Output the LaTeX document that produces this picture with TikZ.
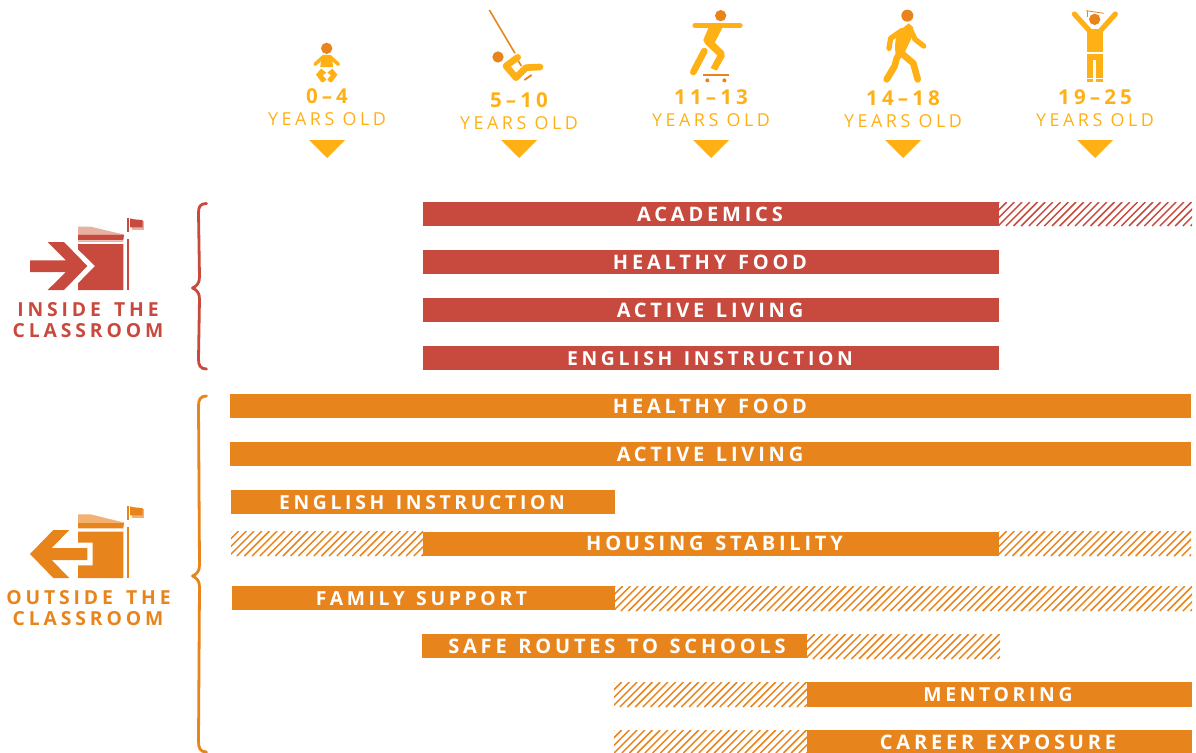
\documentclass[tikz,border=0pt]{standalone}
\usepackage{fontspec}
\setmainfont{Open Sans}
\newfontfamily\wideb[LetterSpace=19]{Open Sans}
\newfontfamily\widec[LetterSpace=20]{Open Sans}
\newcommand{\wgap}{\hspace{2pt} }
\newcommand{\sgap}{\hspace{3.2pt} }
\definecolor{cred}{HTML}{C8493D}
\definecolor{cora}{HTML}{E8841C}
\definecolor{cyel}{HTML}{FFB015}
\definecolor{lred}{HTML}{E8B0A0}
\definecolor{lora}{HTML}{F4B070}
\tikzset{
  barlabel/.style={anchor=base,inner sep=0pt,text=white,font=\wideb\bfseries\fontsize{15}{15}\selectfont},
  barlabelnarrow/.style={barlabel,font=\wideb\bfseries\fontsize{14.5}{14.5}\selectfont},
  agenum/.style={anchor=base,inner sep=0pt,text=cyel,font=\widec\bfseries\fontsize{15.4}{15.4}\selectfont},
  ageyrs/.style={anchor=base,inner sep=0pt,text=cyel,font=\widec\fontsize{13.4}{13.4}\selectfont},
  sidelabel/.style={anchor=base,inner sep=0pt,font=\widec\bfseries\fontsize{14.5}{14.5}\selectfont},
  limb/.style={line cap=round,line join=round,draw=cyel},
  bracestyle/.style={line width=2.1pt,line cap=round,line join=round},
}
\newcommand{\hatchbar}[5]{% x1 y1 x2 y2 colour
  \begin{scope}
    \clip (#1,#2) rectangle (#3,#4);
    \pgfmathsetmacro{\hh}{#4-#2}
    \pgfmathsetmacro{\xst}{#1-\hh}
    \pgfmathsetmacro{\xnx}{\xst+7.7}
    \foreach \xx in {\xst,\xnx,...,#3}{
      \draw[#5,line width=1.1pt] (\xx,#4) -- ++(\hh,-\hh);
    }
  \end{scope}}
\newcommand{\ageblock}[6]{% id, cx, numbase, yrsbase, num
  \node[agenum] (num#1) at (#2,#3) {#5};
  \node[ageyrs] (yrs#1) at (#2,#4) {YEARS OLD};
  \fill[cyel] (#2-18,140) -- (#2+18,140) -- (#2,158) -- cycle;}
\begin{document}
\begin{tikzpicture}[x=0.75pt,y=-0.75pt]
\useasboundingbox (0,0) rectangle (1196,753);

% ---- age headers
\ageblock{a}{327}{103}{125.5}{0–4}{}
\ageblock{b}{519}{107}{129.5}{5–10}{}
\ageblock{c}{711}{104}{126.5}{11–13}{}
\ageblock{d}{903}{105}{127.5}{14–18}{}
\ageblock{e}{1095}{104}{126.5}{19–25}{}

% ---- baby
\begin{scope}[shift={(250,0)},x=.25pt,y=-.25pt]
  \fill[cora] (230,145) circle (17);
  \draw[limb,line width=2.6pt] (195,193) -- (220,170) -- (240,170) -- (265,193);
  \fill[cyel] (214,168) -- (246,168) -- (249,201) -- (211,201) -- cycle;
  \fill[cyel] (198,224) -- (213,206) -- (229,218) -- (218,226) -- (229,238) -- (222,246) -- (214,246) -- cycle;
  \fill[cyel] (262,224) -- (247,206) -- (232,218) -- (243,226) -- (232,238) -- (239,246) -- (246,246) -- cycle;
\end{scope}

% ---- swing
\begin{scope}[shift={(250,0)},x=.25pt,y=-.25pt]
  \draw[cora,line width=1.2pt] (718,30) -- (795,160);
  \draw[cora,line width=1.2pt] (805,183) -- (814,198);
  \fill[cora] (744,171) circle (17);
  \draw[limb,line width=5pt] (803,172) -- (768,198) -- (798,233) -- (828,203) -- (870,201);
  \draw[cora,line width=1.4pt] (823,240) -- (845,225);
\end{scope}

% ---- skater
\begin{scope}[shift={(640,0)},x=.25pt,y=-.25pt]
  \fill[cora] (242,47) circle (17);
  \draw[limb,line width=3.9pt] (165,77) -- (300,77);
  \fill[cyel] (206,82) -- (248,82) -- (224,128) -- (252,155) -- (254,170) -- (230,212) -- (212,204) -- (232,166) -- (196,132) -- (190,120) -- cycle;
  \draw[limb,line width=5pt] (193,153) -- (160,216);
  \draw[cora,line width=1.4pt] (190,224) -- (267,224);
  \fill[cora] (202,241) circle (6);
  \fill[cora] (253,241) circle (6);
\end{scope}

% ---- walker
\begin{scope}[shift={(640,0)},x=.25pt,y=-.25pt]
  \fill[cora] (802,47) circle (18);
  \draw[limb,line width=4pt] (785,92) -- (752,115) -- (747,145);
  \draw[limb,line width=4pt] (808,82) -- (825,118) -- (851,138);
  \fill[cyel] (781,90) -- (806,70) -- (820,82) -- (813,118) -- (806,132) -- (791,165) -- (768,190) -- (765,140) -- (768,105) -- cycle;
  \draw[limb,line width=5pt] (771,172) -- (764,198) -- (740,238);
  \draw[limb,line width=5pt] (785,160) -- (820,190) -- (833,238);
\end{scope}

% ---- graduate
\begin{scope}[shift={(1000,0)},x=.25pt,y=-.25pt]
  \draw[limb,line width=3.9pt] (223,42) -- (272,96);
  \draw[limb,line width=3.9pt] (346,42) -- (298,96);
  \fill[cyel] (262,88) -- (308,88) -- (308,155) -- (262,155) -- cycle;
  \fill[cora] (284,58) circle (17);
  \draw[cora,line width=.6pt] (258,32) -- (312,40);
  \draw[cora,line width=.6pt] (263,34) -- (263,50);
  \fill[cyel] (262,162) rectangle (279,245);
  \fill[cyel] (289,162) rectangle (308,245);
  \fill[cyel] (279,162) rectangle (289,180);
  \draw[white,line width=.5pt] (262,236) -- (279,236) (289,236) -- (308,236);
\end{scope}

% ---- inside icon
\begin{scope}[shift={(0,190)},x=.25pt,y=-.25pt]
  \fill[cred] (90,211) -- (198,211) -- (143,156) -- (192,156) -- (262,228) -- (192,300) -- (143,300) -- (198,246) -- (90,246) -- cycle;
  \fill[lred] (234,110) -- (272,110) -- (373,134) -- (234,134) -- cycle;
  \fill[cred] (234,134) -- (372,134) -- (370,151) -- (234,151) -- cycle;
  \fill[lred] (234,153) rectangle (370,157);
  \fill[cred] (234,162) -- (370,162) -- (370,300) -- (234,300) -- (234,280) -- (285,228) -- (234,178) -- cycle;
  \fill[cred] (381,146) rectangle (387,300);
  \fill[cred] (381,84) rectangle (387,126);
  \fill[lred] (397,94) rectangle (432,119);
  \fill[cred] (390,85) -- (402,88) -- (428,90) -- (428,112) -- (390,112) -- cycle;
\end{scope}
\node[sidelabel,text=cred] (inA) at (88,316) {INSIDE\sgap THE};
\node[sidelabel,text=cred] (inB) at (88,337) {CLASSROOM};

% ---- outside icon
\begin{scope}[shift={(0,490)},x=.25pt,y=-.25pt]
  \fill[cora] (90,192) -- (160,120) -- (208,120) -- (155,174) -- (262,174) -- (262,210) -- (155,210) -- (208,264) -- (160,264) -- cycle;
  \fill[lora] (234,73) -- (272,73) -- (373,98) -- (234,98) -- cycle;
  \fill[cora] (234,98) -- (372,98) -- (370,115) -- (234,115) -- cycle;
  \fill[cora] (234,125) -- (370,125) -- (370,264) -- (234,264) -- (234,226) -- (278,226) -- (278,158) -- (234,158) -- cycle;
  \fill[cora] (381,110) rectangle (387,264);
  \fill[cora] (381,48) rectangle (387,90);
  \fill[lora] (397,58) rectangle (432,83);
  \fill[cora] (390,49) -- (402,52) -- (428,54) -- (428,76) -- (390,76) -- cycle;
\end{scope}
\node[sidelabel,text=cora] (outA) at (88.5,604) {OUTSIDE\sgap THE};
\node[sidelabel,text=cora] (outB) at (88,625) {CLASSROOM};

% ---- braces
\draw[cred,bracestyle] (206.5,203.5) .. controls (200,203.5) and (198.5,207) .. (198.5,213)
  -- (199.5,277) .. controls (199.5,283) and (197,286) .. (192.5,288)
  .. controls (197,290) and (199.5,293) .. (199.5,299)
  -- (198.5,359) .. controls (198.5,365) and (200,369) .. (206.5,369);
\draw[cora,bracestyle] (206.5,396) .. controls (200,396) and (198.5,400) .. (198.5,406)
  -- (199.5,565) .. controls (199.5,571) and (197,574) .. (192.5,576)
  .. controls (197,578) and (199.5,581) .. (199.5,587)
  -- (198.5,741) .. controls (198.5,748) and (200,752) .. (206.5,752);

% ---- inside bars
\fill[cred] (423,202) rectangle (999,226);
\hatchbar{999}{202}{1192}{226}{cred}
\fill[cred] (423,250) rectangle (999,274);
\fill[cred] (423,298) rectangle (999,322);
\fill[cred] (423,346) rectangle (999,370);
\node[barlabel] (b1) at (710,221) {ACADEMICS};
\node[barlabel] (b2) at (710,269) {HEALTHY\wgap FOOD};
\node[barlabel] (b3) at (710,317) {ACTIVE\wgap LIVING};
\node[barlabelnarrow] (b4) at (710,365) {ENGLISH\wgap INSTRUCTION};

% ---- outside bars
\fill[cora] (230,394) rectangle (1191,418);
\fill[cora] (230,442) rectangle (1191,466);
\fill[cora] (231,490) rectangle (615,514);
\hatchbar{231}{531}{423}{556}{cora}
\fill[cora] (423,532) rectangle (999,556);
\hatchbar{999}{531}{1191}{556}{cora}
\fill[cora] (232,586) rectangle (615,610);
\hatchbar{615}{586}{1192}{611}{cora}
\fill[cora] (422,634) rectangle (807,658);
\hatchbar{807}{634}{1000}{659}{cora}
\hatchbar{614}{682}{807}{707}{cora}
\fill[cora] (807,682) rectangle (1192,707);
\hatchbar{614}{730}{807}{753}{cora}
\fill[cora] (807,730) rectangle (1192,753);
\node[barlabel] (c1) at (710,413) {HEALTHY\wgap FOOD};
\node[barlabel] (c2) at (710,461) {ACTIVE\wgap LIVING};
\node[barlabelnarrow] (c3) at (422,509) {ENGLISH\wgap INSTRUCTION};
\node[barlabel] (c4) at (714.5,550.5) {HOUSING\wgap STABILITY};
\node[barlabelnarrow] (c5) at (421.5,605) {FAMILY\wgap SUPPORT};
\node[barlabel] (c6) at (617,653) {SAFE\wgap ROUTES\wgap TO\wgap SCHOOLS};
\node[barlabelnarrow] (c7) at (998,701) {MENTORING};
\node[barlabel] (c8) at (998,749) {CAREER\wgap EXPOSURE};
\end{tikzpicture}
\end{document}
